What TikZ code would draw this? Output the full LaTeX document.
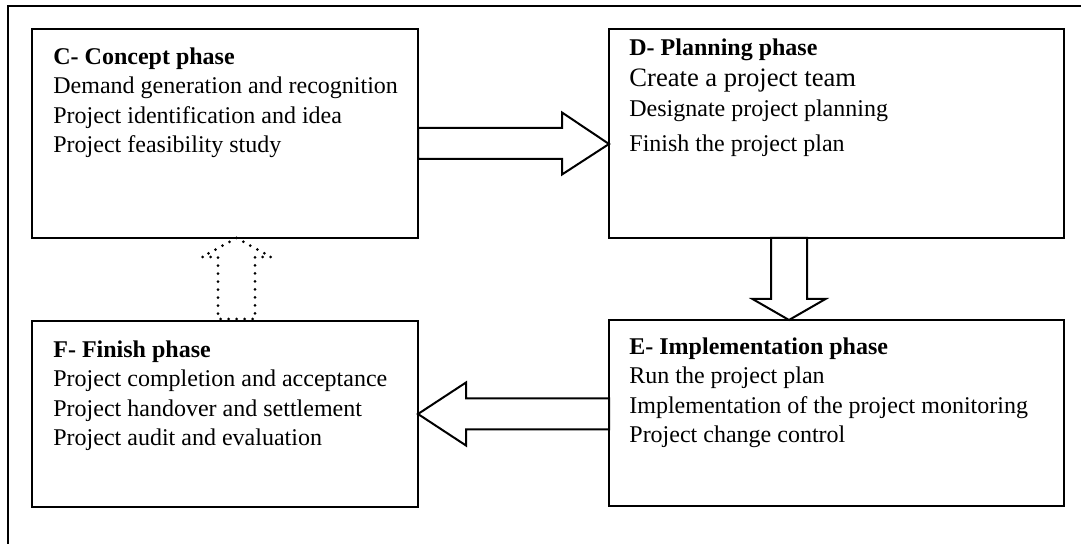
\documentclass[tikz,border=0pt]{standalone}
\usepackage{fontspec}
\setmainfont{Liberation Serif}
\usetikzlibrary{calc}

\begin{document}
\begin{tikzpicture}[
  x=0.5pt, y=-0.5pt,
  every node/.style={font=\fontsize{12}{14.75}\selectfont},
  %% phase boxes and their text blocks
  phase/.style={draw, line width=1pt, rectangle, inner sep=0pt, outer sep=0pt},
  phasetxt/.style={anchor=north west, inner sep=0pt, align=left},
  %% hollow block arrows
  blockarr/.style={draw, line width=1pt, fill=white},
  dotarr/.style={draw, line width=1.5pt, line cap=round, dash pattern=on 0pt off 4pt},
]
\useasboundingbox (0,0) rectangle (1081,544);

%% outer frame (only top and left edges show)
\draw[line width=1pt] (1081,6) -| (8,544);

%% =========================================================
%% TOP ROW — Concept / Planning
%% =========================================================
\node[phase, minimum width=193pt, minimum height=104.5pt] (concept) at (225,133.5) {};
\node[phasetxt] (conceptTxt) at ($(concept.north west)+(21,18)$)
  {\textbf{C- Concept phase}\\
   Demand generation and recognition\\
   Project identification and idea\\
   Project feasibility study};

\node[phase, minimum width=227.5pt, minimum height=104.5pt] (planning) at (836.5,133.5) {};
\node[phasetxt] (planningTxt) at ($(planning.north west)+(20,9)$)
  {\textbf{D- Planning phase}\\[0.75pt]
   {\fontsize{13.3}{14.75}\selectfont Create a project team}\\[0.25pt]
   Designate project planning\\[3pt]
   Finish the project plan};

%% =========================================================
%% BOTTOM ROW — Finish / Implementation
%% =========================================================
\node[phase, minimum width=193pt, minimum height=93pt] (finish) at (225,414) {};
\node[phasetxt] (finishTxt) at ($(finish.north west)+(21,19)$)
  {\textbf{F- Finish phase}\\
   Project completion and acceptance\\
   Project handover and settlement\\
   Project audit and evaluation};

\node[phase, minimum width=227.5pt, minimum height=93pt] (implement) at (836.5,413) {};
\node[phasetxt] (implementTxt) at ($(implement.north west)+(20,17)$)
  {\textbf{E- Implementation phase}\\
   Run the project plan\\
   Implementation of the project monitoring\\
   Project change control};

%% =========================================================
%% Block arrows
%% =========================================================
%% C -> D
\coordinate (cdTip) at ($(planning.west)+(0,10.5)$);
\draw[blockarr] (cdTip) -- ++(-47,-31.5) -- ++(0,15.5) coordinate (cdA)
  -- (cdA -| concept.east) -- ++(0,31) coordinate (cdB)
  -- (cdB -| cdA) -- ++(0,15.5) -- cycle;

%% D -> E
\coordinate (deTip) at ($(implement.north)+(-47.5,0)$);
\draw[blockarr] (deTip) -- ++(-36.5,-21) -- ++(18.5,0) coordinate (deA)
  -- (deA |- planning.south) -- ++(36,0) coordinate (deB)
  -- (deB |- deA) -- ++(18.5,0) -- cycle;

%% E -> F
\coordinate (efTip) at ($(finish.east)+(0,0)$);
\draw[blockarr] (efTip) -- ++(48,-31.5) -- ++(0,16) coordinate (efA)
  -- (efA -| implement.west) -- ++(0,31) coordinate (efB)
  -- (efB -| efA) -- ++(0,16) -- cycle;

%% F -> C (dotted)
\coordinate (fcTip) at ($(concept.south)+(11.5,0)$);
\draw[dotarr] (fcTip) -- ++(-34.5,19) -- ++(16,0) coordinate (fcA)
  -- ($(fcA |- finish.north)+(0,-2)$) -- ++(37,0) coordinate (fcB)
  -- (fcB |- fcA) -- ++(16,0) -- cycle;

\end{tikzpicture}
\end{document}
